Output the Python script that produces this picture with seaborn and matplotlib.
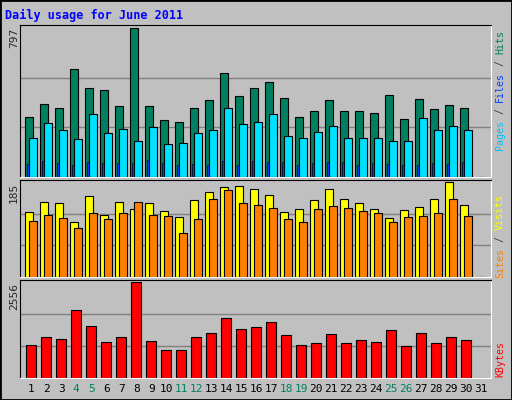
import matplotlib
matplotlib.use("Agg")
import matplotlib.pyplot as plt
import seaborn as sns
import numpy as np

sns.set_style("white")
plt.rcParams["font.family"] = ["DejaVu Sans Mono"]

# ── data ─────────────────────────────────────────────────────────────────────
days = list(range(1, 32))
weekend = [4, 5, 11, 12, 18, 19, 25, 26]
hits = [320, 390, 369, 580, 477, 466, 380, 797, 380, 304, 293, 369, 412, 558, 434,
        477, 510, 423, 320, 352, 412, 352, 352, 342, 439, 309, 417, 363, 385, 369, 0]
files = [206, 287, 249, 201, 336, 233, 255, 195, 266, 179, 184, 233, 249, 369, 282,
         293, 336, 217, 211, 239, 271, 211, 206, 211, 190, 195, 314, 249, 271, 249, 0]
pages = [70, 87, 76, 65, 81, 76, 76, 76, 92, 76, 65, 70, 65, 87, 65,
         87, 81, 81, 65, 76, 81, 81, 65, 76, 70, 65, 65, 76, 70, 81, 0]
visits = [127, 145, 143, 107, 157, 121, 145, 133, 143, 129, 117, 149, 165, 175, 177,
          171, 159, 127, 133, 149, 171, 151, 143, 133, 115, 131, 137, 151, 185, 141, 0]
sites = [109, 121, 115, 96, 125, 113, 125, 145, 121, 119, 86, 113, 151, 169, 143,
         141, 135, 113, 107, 133, 139, 135, 129, 125, 107, 117, 119, 125, 151, 119, 0]
kbytes = [871, 1095, 1039, 1798, 1376, 955, 1095, 2556, 983, 758, 758, 1095, 1208, 1601, 1292,
          1348, 1489, 1152, 871, 927, 1180, 927, 1011, 955, 1264, 843, 1208, 927, 1095, 1011, 0]

BG = "#c0c0c0"
W, H = 512, 400
fig = plt.figure(figsize=(W / 100, H / 100), dpi=100, facecolor=BG)

fig.patches.append(plt.Rectangle((0, 0), 1, 1, transform=fig.transFigure,
                                 fill=False, edgecolor="black", lw=2))

def panel(y0, y1):
    ax = fig.add_axes([20 / W, 1 - y1 / H, 471 / W, (y1 - y0) / H])
    ax.set_facecolor(BG)
    ax.set_xlim(0.247, 0.247 + 471 / 15)
    ax.set_xticks([])
    ax.set_yticks([])
    for s in ["top", "left"]:
        ax.spines[s].set_color("black")
    for s in ["bottom", "right"]:
        ax.spines[s].set_color("white")
    return ax

def grid(ax, top):
    ax.set_ylim(0, top * 1.02)
    for f in (1 / 3, 2 / 3):
        ax.axhline(top * f, color="#808080", lw=1, zorder=0)

CH = 6.0  # pixel advance per character of the side labels

def side_label(parts, y_bottom):
    # parts listed bottom-to-top, text reads upward
    y = y_bottom
    for txt, col in parts:
        n = len(txt)
        fig.text(500 / W, 1 - (y - n * CH / 2) / H, txt, rotation=90, ha="center",
                 va="center", color=col, fontsize=7.2)
        y -= n * CH

x = np.array(days, dtype=float)
kw = dict(edgecolor="black", linewidth=0.8, align="edge")

# hits / files / pages
ax1 = panel(25, 177)
grid(ax1, max(hits))
ax1.bar(x - 0.4, hits, 0.5, color="#008060", zorder=2, **kw)
ax1.bar(x - 0.13, files, 0.5, color="#00e0ff", zorder=3, **kw)
ax1.bar(x - 0.31, pages, 0.17, color="#0040ff", zorder=4, edgecolor="black", linewidth=0.5, align="edge")
fig.text(14 / W, 1 - 28 / H, str(max(hits)), rotation=90, ha="center", va="top", fontsize=8)
side_label([("Pages", "#00c0ff"), (" / ", "#404040"), ("Files", "#0040ff"),
            (" / ", "#404040"), ("Hits", "#008060")], 150)

# visits / sites
ax2 = panel(180, 277)
grid(ax2, max(visits))
ax2.bar(x - 0.4, visits, 0.53, color="#ffff00", zorder=2, **kw)
ax2.bar(x - 0.13, sites, 0.5, color="#ff8000", zorder=3, **kw)
fig.text(14 / W, 1 - 183 / H, str(max(visits)), rotation=90, ha="center", va="top", fontsize=8)
side_label([("Sites", "#ff8000"), (" / ", "#404040"), ("Visits", "#ffff00")], 278)

# kbytes
ax3 = panel(280, 378)
grid(ax3, max(kbytes))
ax3.bar(x - 0.38, kbytes, 0.67, color="#ff0000", zorder=2, **kw)
fig.text(14 / W, 1 - 283 / H, str(max(kbytes)), rotation=90, ha="center", va="top", fontsize=8)
side_label([("KBytes", "#ff0000")], 377)

# day labels
for d in days:
    px = 20 + (d - 0.247) * 15
    fig.text(px / W, 1 - 389 / H, str(d), ha="center", va="center", fontsize=8,
             color="#008060" if d in weekend else "black")

fig.text(5 / W, 1 - 15 / H, "Daily usage for June 2011", ha="left", va="center",
         fontsize=8.5, fontweight="bold", color="#0000ff")

fig.savefig("out.png", dpi=100, facecolor=BG)
